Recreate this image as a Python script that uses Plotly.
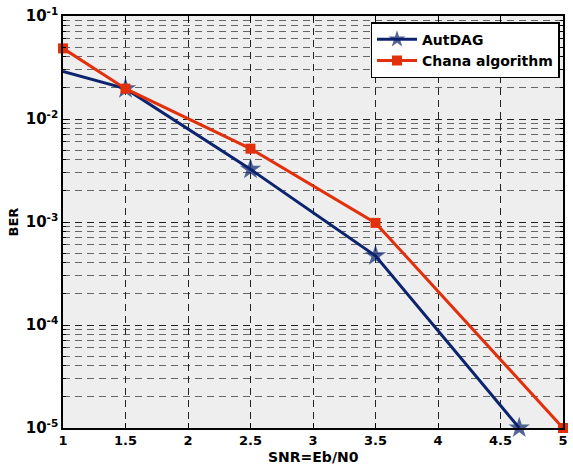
import plotly.graph_objects as go

snr_aut = [1, 1.5, 2.5, 3.5, 4.65]
ber_aut = [0.029, 0.0197, 0.00325, 0.00047, 1e-5]
snr_chana = [1, 1.5, 2.5, 3.5, 5]
ber_chana = [0.0485, 0.0197, 0.00515, 0.00098, 1e-5]
x_ticks = [1, 1.5, 2, 2.5, 3, 3.5, 4, 4.5, 5]
x_ticktext = ["1", "1.5", "2", "2.5", "3", "3.5", "4", "4.5", "5"]
y_ticks = [1e-5, 1e-4, 1e-3, 1e-2, 1e-1]
y_ticktext = ["10<sup>-5</sup>", "10<sup>-4</sup>", "10<sup>-3</sup>", "10<sup>-2</sup>", "10<sup>-1</sup>"]

NAVY = "#0c246e"
RED = "#e2300c"
FONT = "DejaVu Sans"

fig = go.Figure()
fig.add_trace(go.Scatter(
    x=snr_aut, y=ber_aut, name="AutDAG", mode="lines+markers",
    line=dict(color=NAVY, width=3),
    marker=dict(symbol="star", size=[0, 16, 16, 16, 16], color=NAVY, line=dict(width=0)),
    cliponaxis=False,
))
fig.add_trace(go.Scatter(
    x=snr_chana, y=ber_chana, name="Chana algorithm", mode="lines+markers",
    line=dict(color=RED, width=3),
    marker=dict(symbol="square", size=10, color=RED, line=dict(width=0)),
    cliponaxis=False,
))

fig.update_layout(
    width=573, height=466,
    margin=dict(l=63, r=5, t=15, b=38),
    paper_bgcolor="white", plot_bgcolor="#eeeeee",
    font=dict(family=FONT, size=13, color="black"),
    showlegend=True,
    legend=dict(
        x=0.993, y=0.985, xanchor="right", yanchor="top",
        bgcolor="white", bordercolor="black", borderwidth=1.5,
        font=dict(family=FONT, size=14, color="black", weight="bold"),
        itemwidth=40, tracegroupgap=0,
    ),
    annotations=[dict(
        text="SNR=Eb/N0", xref="paper", yref="paper", x=0.5, y=-0.071,
        xanchor="center", yanchor="middle", showarrow=False,
        font=dict(family=FONT, size=14, weight="bold", color="black"),
    )],
)
fig.update_xaxes(
    range=[1, 5], tickvals=x_ticks, ticktext=x_ticktext,
    tickfont=dict(family=FONT, size=13, weight="bold"),
    showline=True, linecolor="black", linewidth=1.5, mirror="allticks",
    ticks="inside", ticklen=5, tickcolor="black",
    showgrid=True, gridcolor="#222222", gridwidth=1, griddash="7px,5px",
    zeroline=False,
)
fig.update_yaxes(
    type="log", range=[-5, -1], tickvals=y_ticks, ticktext=y_ticktext,
    tickfont=dict(family=FONT, size=15, weight="bold"),
    showline=True, linecolor="black", linewidth=1.5, mirror="allticks",
    ticks="inside", ticklen=5, tickcolor="black",
    showgrid=True, gridcolor="#222222", gridwidth=1, griddash="7px,5px",
    minor=dict(dtick="D1", showgrid=True, gridcolor="#666666", gridwidth=1, griddash="7px,5px",
               ticks="inside", ticklen=3, tickcolor="black"),
    zeroline=False,
    title=dict(text="BER", font=dict(family=FONT, size=13, weight="bold"), standoff=4),
)

fig.write_html("out.html")
